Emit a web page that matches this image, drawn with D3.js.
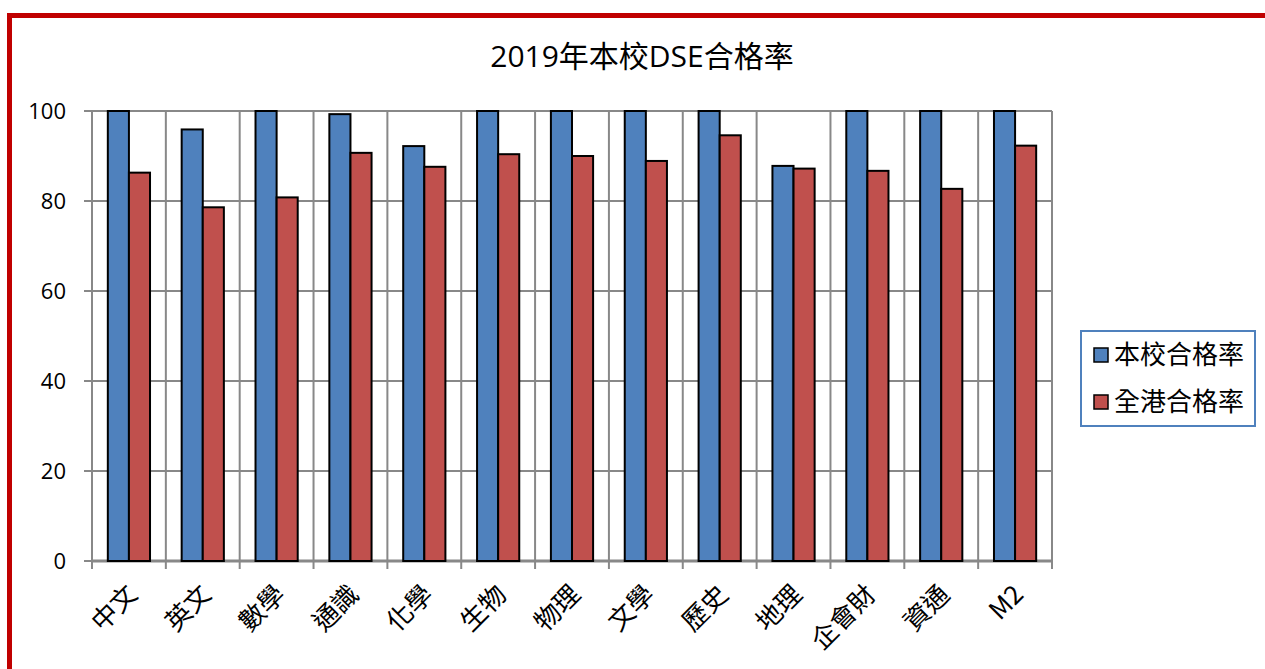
<!DOCTYPE html>
<meta charset="utf-8">
<style>
body { margin: 0; background: #fff; }
text { font-family: "Open Sans", "Noto Sans CJK TC", sans-serif; fill: #000; }
.cjk { font-family: "Noto Sans CJK TC", sans-serif; }
.grid line { stroke: #888; stroke-width: 2px; }
</style>
<svg width="1265" height="669"></svg>
<script src="https://d3js.org/d3.v7.min.js"></script>
<script>

var title = "2019年本校DSE合格率";
var subjects = ["中文", "英文", "數學", "通識", "化學", "生物", "物理", "文學", "歷史", "地理", "企會財", "資通", "M2"];
var seriesNames = ["本校合格率", "全港合格率"];
var schoolRate = [100, 95.9, 100, 99.3, 92.2, 100, 100, 100, 100, 87.8, 100, 100, 100];
var hkRate = [86.3, 78.6, 80.8, 90.7, 87.6, 90.4, 90.0, 88.9, 94.6, 87.2, 86.7, 82.7, 92.3];
var yTicks = [0, 20, 40, 60, 80, 100];
var colors = ["#4F81BD", "#C0504D"];

var svg = d3.select("svg");

// outer red frame
svg.append("rect")
    .attr("x", 9.5).attr("y", 15.5)
    .attr("width", 1400).attr("height", 800)
    .attr("fill", "none")
    .attr("stroke", "#C00000")
    .attr("stroke-width", 5);

var plot = {left: 92, right: 1052, top: 111, bottom: 561};

var x0 = d3.scaleBand().domain(subjects).range([plot.left, plot.right]);
var x1 = d3.scaleBand().domain(seriesNames).range([0, x0.bandwidth()]).paddingOuter(0.75);
var y = d3.scaleLinear().domain([0, 100]).range([plot.bottom, plot.top]);

var rows = subjects.map(function(s, i) {
  return {name: s, values: [schoolRate[i], hkRate[i]]};
});

// title
svg.append("text")
    .attr("x", 642).attr("y", 67)
    .attr("text-anchor", "middle")
    .style("font-size", "30px")
    .text(title);

var grid = svg.append("g").attr("class", "grid");

// horizontal gridlines
grid.selectAll(".hline")
  .data(yTicks)
  .enter().append("line")
    .attr("x1", plot.left - 8).attr("x2", plot.right)
    .attr("y1", function(d) { return y(d); })
    .attr("y2", function(d) { return y(d); });

// vertical gridlines at category boundaries
var bounds = subjects.map(function(s) { return x0(s); }).concat([plot.right]);
grid.selectAll(".vline")
  .data(bounds)
  .enter().append("line")
    .attr("x1", function(d) { return d; }).attr("x2", function(d) { return d; })
    .attr("y1", plot.top).attr("y2", plot.bottom + 8);

// x axis baseline
svg.append("line")
    .attr("x1", plot.left).attr("x2", plot.right)
    .attr("y1", plot.bottom).attr("y2", plot.bottom)
    .attr("stroke", "#888").attr("stroke-width", 3);

// y tick labels
svg.selectAll(".ylab")
  .data(yTicks)
  .enter().append("text")
    .attr("x", 66)
    .attr("y", function(d) { return y(d); })
    .attr("dy", "0.36em")
    .attr("text-anchor", "end")
    .style("font-size", "22px")
    .text(function(d) { return d; });

// bars
var group = svg.selectAll(".cat")
  .data(rows)
  .enter().append("g")
    .attr("transform", function(d) { return "translate(" + x0(d.name) + ",0)"; });

group.selectAll("rect")
  .data(function(d) { return d.values.map(function(v, i) { return {key: seriesNames[i], value: v, i: i}; }); })
  .enter().append("rect")
    .attr("x", function(d) { return x1(d.key); })
    .attr("width", x1.bandwidth())
    .attr("y", function(d) { return y(d.value); })
    .attr("height", function(d) { return y(0) - y(d.value); })
    .attr("fill", function(d) { return colors[d.i]; })
    .attr("stroke", "#000")
    .attr("stroke-width", 2);

// rotated category labels
svg.selectAll(".xlab")
  .data(subjects)
  .enter().append("text")
    .attr("class", "cjk")
    .attr("text-anchor", "end")
    .attr("transform", function(d) {
      return "translate(" + (x0(d) + x0.bandwidth() / 2 + 10) + "," + 596 + ") rotate(-45)";
    })
    .style("font-size", "26px")
    .text(function(d) { return d; });

// legend
var legend = svg.append("g");
legend.append("rect")
    .attr("x", 1081).attr("y", 331)
    .attr("width", 174).attr("height", 95)
    .attr("fill", "#fff")
    .attr("stroke", "#4F81BD")
    .attr("stroke-width", 2);

var item = legend.selectAll(".item")
  .data(seriesNames)
  .enter().append("g")
    .attr("transform", function(d, i) { return "translate(1094," + (355 + i * 47) + ")"; });

item.append("rect")
    .attr("x", 0).attr("y", -7)
    .attr("width", 14).attr("height", 14)
    .attr("fill", function(d, i) { return colors[i]; })
    .attr("stroke", "#000")
    .attr("stroke-width", 1.5);

item.append("text")
    .attr("class", "cjk")
    .attr("x", 20)
    .attr("dy", "0.36em")
    .style("font-size", "26px")
    .text(function(d) { return d; });

</script>
